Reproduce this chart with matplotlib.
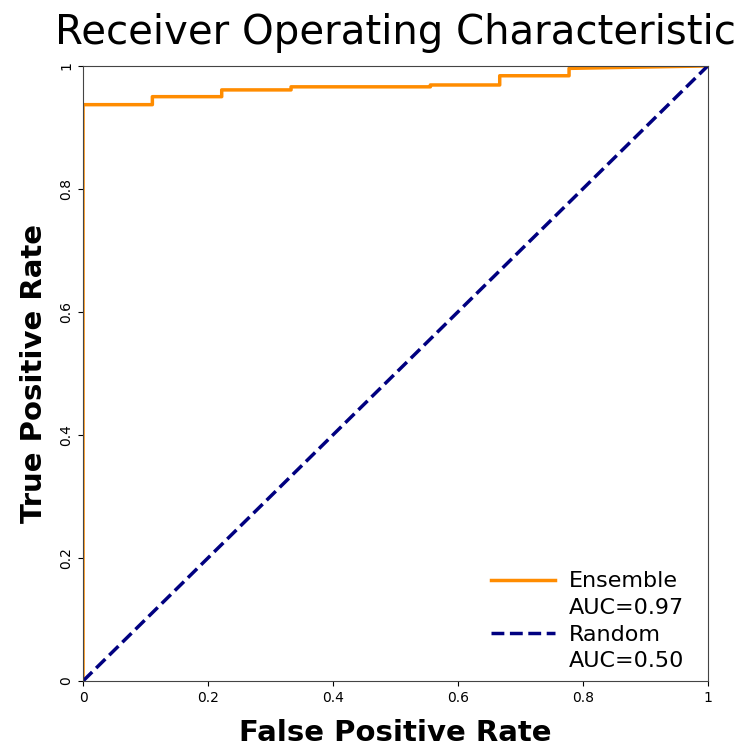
import matplotlib
matplotlib.use("Agg")
import matplotlib.pyplot as plt
from matplotlib.lines import Line2D
import numpy as np

# ROC points (step curve)
fpr = [0.0, 0.0, 0.111, 0.111, 0.222, 0.222, 0.333, 0.333, 0.556, 0.556, 0.667, 0.667, 0.778, 0.778, 1.0]
tpr = [0.0, 0.937, 0.937, 0.950, 0.950, 0.961, 0.961, 0.966, 0.966, 0.969, 0.969, 0.984, 0.984, 0.996, 1.0]
rand_x = [0, 1]
rand_y = [0, 1]
auc_ens = 0.97
auc_rand = 0.50
ticks = [0, 0.2, 0.4, 0.6, 0.8, 1]
tick_labels = ["0", "0.2", "0.4", "0.6", "0.8", "1"]

fig = plt.figure(figsize=(7.38, 7.49), dpi=100)
ax = fig.add_axes([0.1125, 0.0908, 0.8465, 0.8212])

l1, = ax.plot(fpr, tpr, color="darkorange", lw=2.5)
l2, = ax.plot(rand_x, rand_y, color="navy", lw=2.5, ls="--")

ax.set_xlim(0, 1)
ax.set_ylim(0, 1)
ax.set_xticks(ticks)
ax.set_xticklabels(tick_labels, fontsize=10)
ax.set_yticks(ticks)
ax.set_yticklabels(tick_labels, fontsize=10, rotation=90, va="center")
for s in ax.spines.values():
    s.set_color("#444444")

ax.set_title("Receiver Operating Characteristic", fontsize=29, pad=16)
ax.set_xlabel("False Positive Rate", fontsize=21, fontweight="bold", labelpad=10)
ax.set_ylabel("True Positive Rate", fontsize=21, fontweight="bold", labelpad=8)

# legend: handle sits on the first line, AUC on its own row
blank = Line2D([], [], color="none")
ax.legend([l1, blank, l2, blank],
          ["Ensemble", "AUC=%.2f" % auc_ens, "Random", "AUC=%.2f" % auc_rand],
          loc="lower right", bbox_to_anchor=(0.994, -0.017), frameon=False,
          fontsize=16, labelspacing=0.3, handlelength=2.9, handletextpad=0.6)

fig.savefig("out.png", dpi=100)
